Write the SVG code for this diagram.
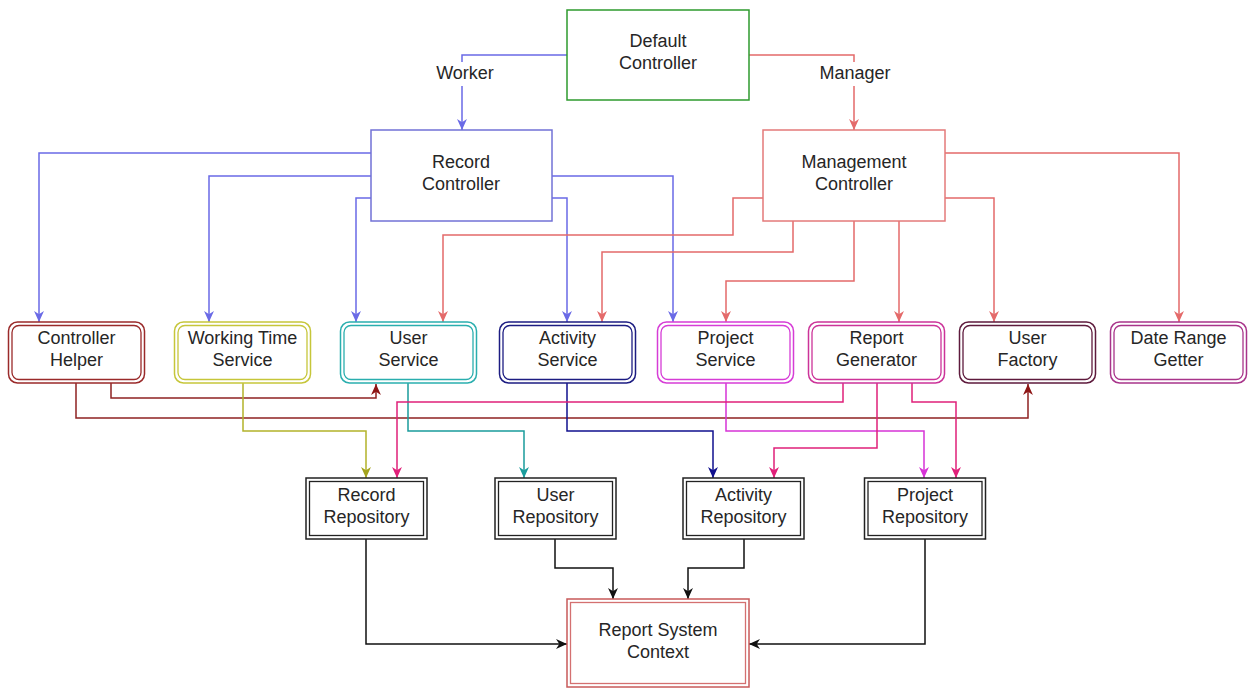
<svg xmlns="http://www.w3.org/2000/svg" width="1256" height="690" viewBox="0 0 1256 690">
<style>
text{font-family:"Liberation Sans",Arial,sans-serif;font-size:18px;fill:#262626;text-anchor:middle}
.c{fill:none;stroke-width:1.5}
.box{fill:#fff;stroke-width:1.5}
.in{fill:none;stroke-width:1.3}
</style>
<defs>
<marker id="mBlue" viewBox="0 0 10 10" refX="10" refY="5" markerWidth="11" markerHeight="11" markerUnits="userSpaceOnUse" orient="auto"><path d="M0,0.5L10,5L0,9.5L3,5Z" fill="#6a6ae6"/></marker>
<marker id="mRed" viewBox="0 0 10 10" refX="10" refY="5" markerWidth="11" markerHeight="11" markerUnits="userSpaceOnUse" orient="auto"><path d="M0,0.5L10,5L0,9.5L3,5Z" fill="#e46a6a"/></marker>
<marker id="mDark" viewBox="0 0 10 10" refX="10" refY="5" markerWidth="11" markerHeight="11" markerUnits="userSpaceOnUse" orient="auto"><path d="M0,0.5L10,5L0,9.5L3,5Z" fill="#8e1515"/></marker>
<marker id="mOlive" viewBox="0 0 10 10" refX="10" refY="5" markerWidth="11" markerHeight="11" markerUnits="userSpaceOnUse" orient="auto"><path d="M0,0.5L10,5L0,9.5L3,5Z" fill="#a3a31e"/></marker>
<marker id="mTeal" viewBox="0 0 10 10" refX="10" refY="5" markerWidth="11" markerHeight="11" markerUnits="userSpaceOnUse" orient="auto"><path d="M0,0.5L10,5L0,9.5L3,5Z" fill="#1a9c9c"/></marker>
<marker id="mNavy" viewBox="0 0 10 10" refX="10" refY="5" markerWidth="11" markerHeight="11" markerUnits="userSpaceOnUse" orient="auto"><path d="M0,0.5L10,5L0,9.5L3,5Z" fill="#10108e"/></marker>
<marker id="mMag" viewBox="0 0 10 10" refX="10" refY="5" markerWidth="11" markerHeight="11" markerUnits="userSpaceOnUse" orient="auto"><path d="M0,0.5L10,5L0,9.5L3,5Z" fill="#d633d6"/></marker>
<marker id="mPink" viewBox="0 0 10 10" refX="10" refY="5" markerWidth="11" markerHeight="11" markerUnits="userSpaceOnUse" orient="auto"><path d="M0,0.5L10,5L0,9.5L3,5Z" fill="#e0207a"/></marker>
<marker id="mBlack" viewBox="0 0 10 10" refX="10" refY="5" markerWidth="11" markerHeight="11" markerUnits="userSpaceOnUse" orient="auto"><path d="M0,0.5L10,5L0,9.5L3,5Z" fill="#111"/></marker>
</defs>
<rect width="1256" height="690" fill="#fff"/>

<g id="connectors">
<!-- Default controller -->
<path class="c" stroke="#6a6ae6" d="M567,55H462V130" marker-end="url(#mBlue)"/>
<path class="c" stroke="#e46a6a" d="M749,55H854V130" marker-end="url(#mRed)"/>
<rect x="434" y="62" width="62" height="24" fill="#fff"/>
<text x="465" y="79">Worker</text>
<rect x="818" y="62" width="74" height="24" fill="#fff"/>
<text x="855" y="79">Manager</text>
<!-- Record controller (blue) -->
<path class="c" stroke="#6a6ae6" d="M371,153H39V322" marker-end="url(#mBlue)"/>
<path class="c" stroke="#6a6ae6" d="M371,176H209V322" marker-end="url(#mBlue)"/>
<path class="c" stroke="#6a6ae6" d="M371,198H356V322" marker-end="url(#mBlue)"/>
<path class="c" stroke="#6a6ae6" d="M552,198H567V322" marker-end="url(#mBlue)"/>
<path class="c" stroke="#6a6ae6" d="M552,176H673V322" marker-end="url(#mBlue)"/>
<!-- Management controller (red) -->
<path class="c" stroke="#e46a6a" d="M763,198H733V235H443V322" marker-end="url(#mRed)"/>
<path class="c" stroke="#e46a6a" d="M793,221V252H602V322" marker-end="url(#mRed)"/>
<path class="c" stroke="#e46a6a" d="M854,221V281H726V322" marker-end="url(#mRed)"/>
<path class="c" stroke="#e46a6a" d="M899,221V322" marker-end="url(#mRed)"/>
<path class="c" stroke="#e46a6a" d="M945,198H994V322" marker-end="url(#mRed)"/>
<path class="c" stroke="#e46a6a" d="M945,153H1179V322" marker-end="url(#mRed)"/>
<!-- middle to repositories -->
<path class="c" stroke="#8e2222" d="M111,383V398H376V384" marker-end="url(#mDark)"/>
<path class="c" stroke="#8e2222" d="M76,383V418H1028V384" marker-end="url(#mDark)"/>
<path class="c" stroke="#b3b32a" d="M243,383V431H366V478" marker-end="url(#mOlive)"/>
<path class="c" stroke="#1a9c9c" d="M408,383V431H524V478" marker-end="url(#mTeal)"/>
<path class="c" stroke="#10108e" d="M567,383V431H713V478" marker-end="url(#mNavy)"/>
<path class="c" stroke="#d633d6" d="M726,383V431H924V478" marker-end="url(#mMag)"/>
<path class="c" stroke="#e0207a" d="M843,383V402H397V478" marker-end="url(#mPink)"/>
<path class="c" stroke="#e0207a" d="M877,383V448H774V478" marker-end="url(#mPink)"/>
<path class="c" stroke="#e0207a" d="M912,383V402H956V478" marker-end="url(#mPink)"/>
<!-- repositories to context -->
<path class="c" stroke="#111" d="M366,539V644H567" marker-end="url(#mBlack)"/>
<path class="c" stroke="#111" d="M555,539V568H613V599" marker-end="url(#mBlack)"/>
<path class="c" stroke="#111" d="M744,539V568H688V599" marker-end="url(#mBlack)"/>
<path class="c" stroke="#111" d="M925,539V644H749" marker-end="url(#mBlack)"/>
</g>

<g id="default-controller">
<rect class="box" x="567" y="10" width="182" height="90" stroke="#2e9a2e"/>
<text x="658" y="47">Default</text><text x="658" y="69">Controller</text>
</g>
<g id="record-controller">
<rect class="box" x="371" y="130" width="181" height="91" stroke="#7272d6"/>
<text x="461" y="168">Record</text><text x="461" y="190">Controller</text>
</g>
<g id="management-controller">
<rect class="box" x="763" y="130" width="182" height="91" stroke="#e47a7a"/>
<text x="854" y="168">Management</text><text x="854" y="190">Controller</text>
</g>

<g id="controller-helper">
<rect class="box" x="8.5" y="322" width="136" height="61" rx="9" stroke="#9a2a2a"/>
<rect class="in" x="12" y="325.5" width="129" height="54" rx="7" stroke="#9a2a2a"/>
<text x="76.5" y="344">Controller</text><text x="76.5" y="366">Helper</text>
</g>
<g id="working-time-service">
<rect class="box" x="174.5" y="322" width="136" height="61" rx="9" stroke="#c6c63a"/>
<rect class="in" x="178" y="325.5" width="129" height="54" rx="7" stroke="#c6c63a"/>
<text x="242.5" y="344">Working Time</text><text x="242.5" y="366">Service</text>
</g>
<g id="user-service">
<rect class="box" x="340.5" y="322" width="136" height="61" rx="9" stroke="#2aaeae"/>
<rect class="in" x="344" y="325.5" width="129" height="54" rx="7" stroke="#2aaeae"/>
<text x="408.5" y="344">User</text><text x="408.5" y="366">Service</text>
</g>
<g id="activity-service">
<rect class="box" x="499.5" y="322" width="136" height="61" rx="9" stroke="#1c1c82"/>
<rect class="in" x="503" y="325.5" width="129" height="54" rx="7" stroke="#1c1c82"/>
<text x="567.5" y="344">Activity</text><text x="567.5" y="366">Service</text>
</g>
<g id="project-service">
<rect class="box" x="657.5" y="322" width="136" height="61" rx="9" stroke="#d63cd6"/>
<rect class="in" x="661" y="325.5" width="129" height="54" rx="7" stroke="#d63cd6"/>
<text x="725.5" y="344">Project</text><text x="725.5" y="366">Service</text>
</g>
<g id="report-generator">
<rect class="box" x="808.5" y="322" width="136" height="61" rx="9" stroke="#cc3399"/>
<rect class="in" x="812" y="325.5" width="129" height="54" rx="7" stroke="#cc3399"/>
<text x="876.5" y="344">Report</text><text x="876.5" y="366">Generator</text>
</g>
<g id="user-factory">
<rect class="box" x="959.5" y="322" width="136" height="61" rx="9" stroke="#5e1a3c"/>
<rect class="in" x="963" y="325.5" width="129" height="54" rx="7" stroke="#5e1a3c"/>
<text x="1027.5" y="344">User</text><text x="1027.5" y="366">Factory</text>
</g>
<g id="date-range-getter">
<rect class="box" x="1110.5" y="322" width="136" height="61" rx="9" stroke="#a8348a"/>
<rect class="in" x="1114" y="325.5" width="129" height="54" rx="7" stroke="#a8348a"/>
<text x="1178.5" y="344">Date Range</text><text x="1178.5" y="366">Getter</text>
</g>

<g id="record-repository">
<rect class="box" x="306" y="478" width="121" height="61" stroke="#222"/>
<rect class="in" x="309.5" y="481.5" width="114" height="54" stroke="#222"/>
<text x="366.5" y="501">Record</text><text x="366.5" y="523">Repository</text>
</g>
<g id="user-repository">
<rect class="box" x="495" y="478" width="121" height="61" stroke="#222"/>
<rect class="in" x="498.5" y="481.5" width="114" height="54" stroke="#222"/>
<text x="555.5" y="501">User</text><text x="555.5" y="523">Repository</text>
</g>
<g id="activity-repository">
<rect class="box" x="683" y="478" width="121" height="61" stroke="#222"/>
<rect class="in" x="686.5" y="481.5" width="114" height="54" stroke="#222"/>
<text x="743.5" y="501">Activity</text><text x="743.5" y="523">Repository</text>
</g>
<g id="project-repository">
<rect class="box" x="864.5" y="478" width="121" height="61" stroke="#222"/>
<rect class="in" x="868" y="481.5" width="114" height="54" stroke="#222"/>
<text x="925" y="501">Project</text><text x="925" y="523">Repository</text>
</g>

<g id="report-system-context">
<rect class="box" x="567" y="599" width="182" height="88" stroke="#c85a5a"/>
<rect class="in" x="570.5" y="602.5" width="175" height="81" stroke="#d47070"/>
<text x="658" y="636">Report System</text><text x="658" y="658">Context</text>
</g>
</svg>
